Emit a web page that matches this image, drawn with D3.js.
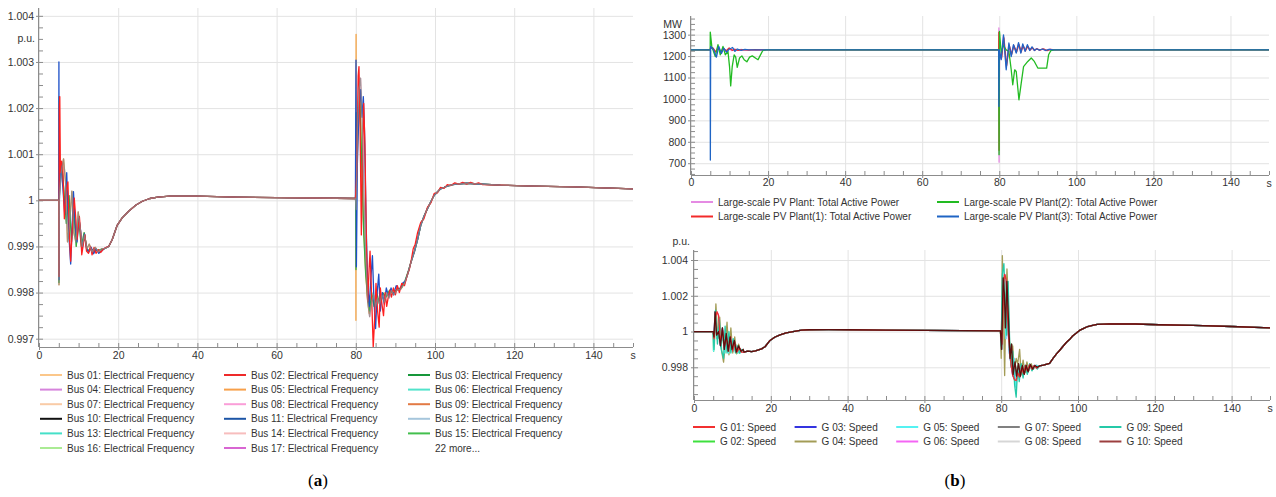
<!DOCTYPE html>
<html><head><meta charset="utf-8">
<title>Frequency, PV power and generator speed</title>
<script src="https://d3js.org/d3.v7.min.js"></script>
<style>
  body { margin: 0; background: #fff; }
  svg { display: block; font-family: "Liberation Sans", Arial, sans-serif; }
  .grid line { stroke: #e3e3e3; }
  .grid .domain { stroke: none; }
  .axis .domain, .axis line { stroke: #8c8c8c; }
  .axis text { fill: #333; font-size: 10.5px; }
  .unit { fill: #333; font-size: 10.5px; }
  .trace { fill: none; stroke-width: 1.3; stroke-linejoin: round; }
  .legend text { fill: #333; font-size: 10px; }
  .caption { font-family: "Liberation Serif", "DejaVu Serif", serif; font-size: 17px; fill: #000; }
</style>
</head>
<body>
<svg id="chart" width="1276" height="497"></svg>

<script>
// ---------- ticks ----------
const timeTicks = [0, 20, 40, 60, 80, 100, 120, 140];
const freqTicks = [0.997, 0.998, 0.999, 1, 1.001, 1.002, 1.003, 1.004];
const powerTicks = [700, 800, 900, 1000, 1100, 1200, 1300];
const speedTicks = [0.998, 1, 1.002, 1.004];

// ---------- (a) bus frequency, p.u. ----------
const busNames = ["Bus 01: Electrical Frequency", "Bus 02: Electrical Frequency", "Bus 03: Electrical Frequency",
  "Bus 04: Electrical Frequency", "Bus 05: Electrical Frequency", "Bus 06: Electrical Frequency",
  "Bus 07: Electrical Frequency", "Bus 08: Electrical Frequency", "Bus 09: Electrical Frequency",
  "Bus 10: Electrical Frequency", "Bus 11: Electrical Frequency", "Bus 12: Electrical Frequency",
  "Bus 13: Electrical Frequency", "Bus 14: Electrical Frequency", "Bus 15: Electrical Frequency",
  "Bus 16: Electrical Frequency", "Bus 17: Electrical Frequency", "22 more..."];
const busColors = ["#fbc78a", "#ee2a2a", "#17973a", "#d684dc", "#f7a04a", "#52e3cb",
  "#f9cba6", "#fa9ed8", "#e27a45", "#111111", "#1c55a6", "#a6c6dc",
  "#45e0c8", "#f7bdbd", "#43bf4d", "#aaeb94", "#d866d2", null];

const busStart = [[0, 1], [5, 1]];
const busRecovery1 = [[17.6, 0.99900], [18.5, 0.99915], [19.7, 0.99945], [21, 0.99962], [22.7, 0.99977],
  [24.5, 0.99990], [26.1, 0.99998], [28, 1.00004], [30, 1.00007], [33, 1.00009], [40, 1.00009],
  [50, 1.00007], [60, 1.00006], [70, 1.00005], [79.9, 1.00004]];
const busRecovery2 = [[94.8, 0.99889], [95.6, 0.99915], [96.4, 0.99946], [97.2, 0.99965], [98.1, 0.99982],
  [99, 0.99998], [99.8, 1.00011], [100.6, 1.00018], [101.4, 1.00025], [102.3, 1.00028], [103.1, 1.00031],
  [104.5, 1.00034], [106.4, 1.00036], [108, 1.00037], [110, 1.00036], [116.5, 1.00033], [125, 1.00031],
  [135, 1.00029], [150, 1.00025]];
const busRedRecovery2 = [[94.5, 0.99895], [95.0, 0.99905], [95.6, 0.9993], [96.4, 0.99952], [97.2, 0.9996],
  [98.1, 0.99985], [99, 0.99995], [99.8, 1.00015], [100.6, 1.00016], [101.4, 1.00028], [102.3, 1.00026],
  [103.1, 1.00034], [104, 1.00032], [105, 1.00038], [106, 1.00035], [107, 1.00039], [108, 1.00035],
  [109, 1.00039], [110, 1.00035], [111, 1.00038], [112, 1.00034], [116.5, 1.00033], [125, 1.00031],
  [135, 1.00029], [150, 1.00025]];

const busPinkEvent1 = [[5, 1], [5.04, 0.99822], [5.1, 1.00225], [5.2, 1.0004], [5.7, 1.0008], [6.3, 1.0002],
  [6.9, 0.9995], [7.6, 1.0001], [8.2, 0.9991], [8.8, 0.9998], [9.4, 0.9990], [10.0, 0.9996], [10.7, 0.9990],
  [11.4, 0.9993], [12.2, 0.9989], [13.0, 0.99895], [14, 0.9989], [15, 0.99892], [16.5, 0.99895]];
const busGrayEvent1 = [[5, 1], [5.05, 0.99817], [5.15, 1.0001], [5.6, 1.0006], [6.2, 1.0009], [6.7, 1.0004],
  [7.2, 0.9991], [7.7, 0.99945], [8.3, 1.0002], [8.8, 0.9993], [9.3, 0.9991], [9.9, 0.99975], [10.4, 0.9994],
  [10.9, 0.9990], [11.5, 0.99925], [12.1, 0.99895], [12.7, 0.99905], [13.4, 0.99888], [14.2, 0.99898],
  [15.0, 0.99888], [15.8, 0.99895], [16.7, 0.99896]];
const busBlueEvent1 = [[5, 1], [5.03, 1.0030], [5.08, 0.99828], [5.15, 1.0000], [5.5, 1.0008], [6.0, 1.0003],
  [6.5, 0.9997], [7.0, 1.0006], [7.5, 0.9993], [8.0, 0.99862], [8.4, 0.9995], [8.7, 1.00019], [9.2, 0.9994],
  [9.6, 0.9991], [10.1, 0.9996], [10.5, 0.99935], [10.9, 0.99895], [11.5, 0.99927], [12.0, 0.99895],
  [12.6, 0.99888], [13.2, 0.99898], [13.8, 0.99884], [14.4, 0.99895], [15.1, 0.99885], [15.8, 0.9989],
  [16.6, 0.99896]];
const busRedEvent1 = [[5, 1], [5.05, 0.99835], [5.15, 1.0020], [5.25, 1.00225], [5.4, 1.0006], [5.7, 1.00085],
  [6.0, 1.00075], [6.4, 0.9996], [6.9, 1.0002], [7.3, 1.0004], [7.7, 0.9992], [8.0, 0.99868], [8.4, 0.9994],
  [8.9, 1.00005], [9.3, 0.9996], [9.6, 0.99915], [10.2, 0.99965], [10.5, 0.9993], [10.8, 0.99882],
  [11.2, 0.99905], [11.6, 0.99925], [12.0, 0.9989], [12.5, 0.99885], [13.0, 0.9990], [13.4, 0.99882],
  [13.9, 0.99898], [14.4, 0.99885], [15.0, 0.99893], [15.6, 0.99887], [16.3, 0.99895], [17, 0.99898]];

const busOrangeEvent2 = [[80.0, 1.00003], [80.03, 0.9974], [80.07, 1.0036], [80.15, 1.0004], [80.5, 1.0013],
  [81.0, 1.0023], [81.4, 1.0012], [81.9, 0.9996], [82.4, 0.9986], [82.9, 0.9979], [83.4, 0.99755],
  [83.9, 0.9979], [84.5, 0.9978], [85.2, 0.9979], [86, 0.9978], [87, 0.99795], [88, 0.99795], [89, 0.998],
  [90.3, 0.99805], [91.4, 0.99808], [92.3, 0.9982], [93.1, 0.9984], [93.9, 0.99865]];
const busGreenEvent2 = [[80.0, 1.00003], [80.05, 0.9985], [80.1, 1.0019], [80.2, 1.001], [80.6, 1.0018],
  [81.0, 1.0022], [81.5, 1.0008], [82, 0.9993], [82.5, 0.9984], [83, 0.9979], [83.5, 0.9976], [84, 0.9980],
  [84.6, 0.9977], [85.3, 0.9980], [86, 0.99775], [86.8, 0.998], [87.6, 0.9979], [88.5, 0.99805],
  [89.5, 0.99798], [90.5, 0.99808], [91.5, 0.9981], [92.4, 0.99825], [93.2, 0.99845], [94, 0.99868]];
const busGrayEvent2 = [[80.1, 0.9998], [80.4, 1.0015], [80.8, 1.0024], [81.2, 1.00265], [81.6, 1.0018],
  [82.0, 1.0003], [82.5, 0.9988], [83.0, 0.9978], [83.5, 0.99748], [84.0, 0.9978], [84.5, 0.99795],
  [85.0, 0.9977], [85.5, 0.99788], [86, 0.99775], [86.6, 0.99795], [87.2, 0.9978], [87.8, 0.998],
  [88.4, 0.99788], [89, 0.99805], [89.6, 0.99795], [90.4, 0.99805], [91.4, 0.99808], [92.3, 0.9982],
  [93.1, 0.9984], [93.9, 0.99865]];
const busBlueEvent2 = [[80.05, 1.00304], [80.15, 0.99856], [80.4, 1.0008], [80.8, 1.0020], [81.2, 1.0024],
  [81.6, 1.0018], [81.9, 1.00225], [82.2, 1.0015], [82.6, 0.9995], [83.0, 0.9982], [83.4, 0.9977],
  [83.8, 0.9983], [84.2, 0.9988], [84.6, 0.9978], [85.0, 0.99722], [85.4, 0.998], [85.8, 0.9984],
  [86.2, 0.9976], [86.7, 0.9980], [87.2, 0.99775], [87.7, 0.9981], [88.3, 0.9979], [88.9, 0.9981],
  [89.5, 0.99795], [90.2, 0.99815], [91, 0.99805], [91.8, 0.9982], [92.5, 0.99825], [93.1, 0.9984],
  [93.9, 0.99865]];
const busRedEvent2 = [[80.2, 1.0005], [80.6, 1.0027], [80.8, 1.0029], [81.1, 1.0015], [81.4, 0.99925],
  [81.7, 1.0010], [82.0, 1.0021], [82.3, 1.0012], [82.7, 0.9990], [83.0, 0.9978], [83.3, 0.9984],
  [83.6, 0.9989], [84.0, 0.9979], [84.4, 0.99682], [84.8, 0.9975], [85.1, 0.9982], [85.5, 0.9976],
  [85.9, 0.99725], [86.2, 0.9981], [86.6, 0.99775], [87.0, 0.9975], [87.4, 0.9980], [87.8, 0.9977],
  [88.2, 0.9979], [88.6, 0.99805], [89.0, 0.9979], [89.5, 0.9981], [90.0, 0.99795], [90.5, 0.99815],
  [91.0, 0.998], [91.6, 0.9982], [92.3, 0.99815], [93.0, 0.99838], [93.5, 0.9985], [94.0, 0.9987]];

const busTraces = [
  { color: "#f5b0c8", points: busStart.concat(busPinkEvent1, busRecovery1, busGrayEvent2, busRecovery2) },
  { color: "#f4a446", points: busStart.concat(busGrayEvent1, busRecovery1, busOrangeEvent2, busRecovery2) },
  { color: "#2fae3f", points: busStart.concat(busPinkEvent1, busRecovery1, busGreenEvent2, busRecovery2) },
  { color: "#1d50c8", points: busStart.concat(busBlueEvent1, busRecovery1, busBlueEvent2, busRecovery2) },
  { color: "#ff1f1f", points: busStart.concat(busRedEvent1, busRecovery1, busRedEvent2, busRedRecovery2) },
  { color: "#8a8a8a", opacity: 0.75, points: busStart.concat(busGrayEvent1, busRecovery1, busGrayEvent2, busRecovery2) }
];

// ---------- (b) top: PV plant active power, MW ----------
const pvNames = ["Large-scale PV Plant: Total Active Power", "Large-scale PV Plant(1): Total Active Power",
  "Large-scale PV Plant(2): Total Active Power", "Large-scale PV Plant(3): Total Active Power"];
const pvColors = ["#e58be3", "#f22a2a", "#22bb22", "#1f64c4"];

const pvPlant = [[0, 1229], [5, 1229], [5.05, 1241], [5.6, 1234], [6.3, 1221], [7.0, 1239], [7.7, 1220],
  [8.4, 1237], [9.1, 1223], [9.8, 1235], [10.6, 1225], [11.3, 1233], [12.1, 1226], [13, 1231], [14, 1228],
  [15.5, 1230], [17, 1228], [19, 1229], [79.85, 1229], [79.9, 1331], [79.95, 705], [80.05, 1210],
  [80.5, 1185], [81.1, 1292], [81.8, 1148], [82.5, 1256], [83.1, 1204], [83.7, 1251], [84.4, 1217],
  [85.0, 1258], [85.6, 1217], [86.1, 1252], [86.7, 1223], [87.3, 1248], [87.9, 1227], [88.5, 1241],
  [89.1, 1226], [89.7, 1235], [90.4, 1227], [91.2, 1233], [92, 1225], [93, 1232], [94, 1228], [95, 1229],
  [150, 1229]];
const pvPlant1 = [[0, 1229], [5, 1229], [5.05, 1236], [5.7, 1238], [6.4, 1220], [7.1, 1236], [7.8, 1222],
  [8.5, 1234], [9.2, 1225], [9.9, 1238], [10.7, 1227], [11.4, 1231], [12.2, 1227], [13.2, 1230], [15, 1228],
  [16.5, 1230], [19, 1229], [79.85, 1229], [79.9, 1310], [79.95, 760], [80.05, 1215], [80.6, 1190],
  [81.2, 1285], [81.9, 1155], [82.6, 1250], [83.2, 1208], [83.8, 1248], [84.5, 1220], [85.1, 1254],
  [85.7, 1220], [86.2, 1249], [86.8, 1225], [87.4, 1245], [88, 1228], [88.6, 1239], [89.2, 1227],
  [89.8, 1234], [90.5, 1228], [91.5, 1234], [92.4, 1225], [93.3, 1231], [94.5, 1229], [150, 1229]];
const pvPlant2 = [[0, 1229], [4.98, 1229], [5.0, 1312], [5.4, 1245], [6.3, 1198], [7.0, 1253], [7.6, 1206],
  [8.3, 1245], [8.9, 1206], [9.6, 1221], [10.0, 1151], [10.3, 1061], [10.7, 1151], [11.2, 1206],
  [11.6, 1195], [12.0, 1147], [12.6, 1191], [13.2, 1201], [13.8, 1183], [14.5, 1173], [15.2, 1195],
  [15.9, 1201], [16.9, 1189], [17.4, 1183], [17.9, 1201], [18.6, 1225], [19.5, 1229], [79.85, 1229],
  [79.95, 740], [80.05, 1315], [80.5, 1214], [81.0, 1250], [81.8, 1229], [82.5, 1222], [83.1, 1136],
  [83.5, 1066], [84.0, 1136], [84.4, 1128], [85.1, 996], [85.7, 1074], [86.3, 1151], [87.4, 1175],
  [88.3, 1191], [89.1, 1175], [90.0, 1144], [91.3, 1144], [92.3, 1144], [92.8, 1206], [93.4, 1226],
  [94.3, 1229], [150, 1229]];
const pvPlant3 = [[0, 1229], [5, 1229], [5.02, 715], [5.1, 1245], [5.8, 1232], [6.6, 1195], [7.2, 1245],
  [7.9, 1212], [8.5, 1237], [9.2, 1218], [9.9, 1232], [10.8, 1240], [11.4, 1222], [12, 1233], [13, 1227],
  [14, 1231], [15, 1229], [79.85, 1229], [79.9, 965], [80.0, 1229], [80.5, 1183], [81.1, 1299],
  [81.8, 1136], [82.5, 1261], [83.1, 1198], [83.7, 1253], [84.4, 1214], [85.0, 1263], [85.6, 1214],
  [86.1, 1257], [86.7, 1222], [87.3, 1253], [87.9, 1226], [88.5, 1243], [89.1, 1226], [89.7, 1234],
  [90.4, 1228], [91.2, 1233], [92, 1227], [93, 1231], [94, 1229], [150, 1229]];

const pvTraces = [
  { color: pvColors[0], points: pvPlant },
  { color: pvColors[1], points: pvPlant1 },
  { color: pvColors[2], points: pvPlant2 },
  { color: pvColors[3], points: pvPlant3 }
];

// ---------- (b) bottom: generator speed, p.u. ----------
const genNames = ["G 01: Speed", "G 02: Speed", "G 03: Speed", "G 04: Speed", "G 05: Speed",
  "G 06: Speed", "G 07: Speed", "G 08: Speed", "G 09: Speed", "G 10: Speed"];
const genColors = ["#f23030", "#3ee03e", "#3434e0", "#a39c56", "#55f2f2",
  "#f465f4", "#808080", "#d6d6d6", "#25c9a8", "#9c3f3f"];

const genStart = [[0, 1], [5, 1]];
const genBase1 = [[13, 0.99885], [14, 0.9989], [15, 0.99888], [16, 0.99892], [17.6, 0.99903],
  [18.5, 0.99915], [19.8, 0.9995], [21, 0.99968], [22.4, 0.99981], [24, 0.99993], [25.8, 1.0],
  [28, 1.00008], [30, 1.0001], [35, 1.00011], [40, 1.0001], [50, 1.00008], [60, 1.00006], [70, 1.00005],
  [79.8, 1.00004]];
const genBase2 = [[90, 0.99808], [91, 0.99812], [92.6, 0.99822], [93.5, 0.9985], [94.4, 0.99875],
  [95.2, 0.99894], [96, 0.99915], [97, 0.9994], [98, 0.9996], [98.6, 0.99975], [99.5, 0.9999],
  [100.4, 1.00006], [101.5, 1.00018], [102.5, 1.00028], [103.8, 1.00035], [105, 1.0004], [108.2, 1.00043],
  [115, 1.00042], [121, 1.00038], [130, 1.00034], [140, 1.00028], [150, 1.0002]];

const gRedEvent1 = [[5.2, 0.9996], [5.6, 1.0008], [6.0, 1.0011], [6.4, 1.0009], [6.9, 0.9994], [7.4, 1.0001],
  [7.9, 0.9991], [8.4, 0.99975], [9.0, 0.9989], [9.5, 0.9997], [10.1, 0.9989], [10.6, 0.9994],
  [11.2, 0.99885], [11.8, 0.9991], [12.4, 0.99885]];
const gRedEvent2 = [[80.2, 0.9993], [80.6, 1.0026], [80.9, 1.0032], [81.3, 1.0029], [81.6, 1.0012],
  [81.9, 0.9998], [82.2, 0.9989], [82.6, 0.9981], [83.0, 0.99755], [83.5, 0.9973], [83.9, 0.99726],
  [84.3, 0.9977], [84.8, 0.99745], [85.3, 0.9980], [85.8, 0.99765], [86.3, 0.9981], [86.8, 0.9978],
  [87.4, 0.99815], [88, 0.9979], [88.6, 0.9981], [89.2, 0.99795]];
const gOliveEvent1 = [[5.3, 0.9992], [5.7, 1.00155], [6.2, 0.9996], [6.7, 1.0008], [7.2, 0.9989],
  [7.7, 0.99829], [8.2, 0.9994], [8.6, 1.00052], [9.1, 0.9987], [9.6, 1.0002], [10.1, 0.9988],
  [10.6, 0.9997], [11.1, 0.99875], [11.6, 0.9993], [12.2, 0.99885], [12.8, 0.9990]];
const gOliveEvent2 = [[80.0, 0.9985], [80.3, 1.00425], [80.6, 1.0008], [80.9, 0.99754], [81.2, 1.0015],
  [81.5, 1.0035], [81.8, 1.002], [82.2, 0.9992], [82.6, 0.9985], [83.0, 0.9992], [83.4, 0.9978],
  [83.9, 0.9985], [84.3, 0.9982], [84.8, 0.9990], [85.2, 0.9976], [85.7, 0.9984], [86.2, 0.9977],
  [86.7, 0.9983], [87.2, 0.9978], [87.8, 0.9982], [88.4, 0.9979], [89, 0.9981]];
const gTealEvent1 = [[5.2, 0.9990], [5.6, 1.0012], [6.1, 0.9993], [6.6, 1.0007], [7.1, 0.9990],
  [7.7, 0.9985], [8.1, 1.0003], [8.6, 0.9988], [9.1, 1.0000], [9.6, 0.9988], [10.2, 0.9996],
  [10.8, 0.9988], [11.3, 0.9992], [11.9, 0.99878], [12.5, 0.9990]];
const gTealEvent2 = [[80.0, 0.9992], [80.3, 1.0032], [80.7, 1.0038], [81.1, 1.0015], [81.4, 0.9998],
  [81.8, 1.0028], [82.2, 0.9995], [82.6, 0.9980], [83.0, 0.9989], [83.5, 0.9970], [83.9, 0.99633],
  [84.3, 0.9980], [84.7, 0.9972], [85.2, 0.9982], [85.7, 0.9974], [86.2, 0.9981], [86.8, 0.9976],
  [87.4, 0.9982], [88, 0.9978], [88.7, 0.9981], [89.4, 0.9979]];
const gCyanEvent1 = [[5.1, 0.9989], [5.5, 1.0009], [6.0, 0.9996], [6.5, 1.0004], [7.0, 0.9991],
  [7.5, 0.9999], [8.0, 0.9988], [8.5, 0.9999], [9.0, 0.9988], [9.6, 0.9996], [10.2, 0.9989],
  [10.8, 0.9993], [11.4, 0.9988], [12, 0.9990]];
const gCyanEvent2 = [[80.1, 0.9990], [80.4, 1.0028], [80.8, 1.0024], [81.2, 0.9996], [81.6, 1.0020],
  [82.0, 0.9990], [82.4, 0.9984], [82.9, 0.9978], [83.3, 0.9985], [83.8, 0.9969], [84.2, 0.9978],
  [84.7, 0.9975], [85.2, 0.9981], [85.7, 0.9976], [86.3, 0.9981], [86.9, 0.9977], [87.5, 0.9981],
  [88.2, 0.9979], [89, 0.9981]];
const gDarkEvent1 = [[5.2, 0.9997], [5.5, 1.0011], [5.9, 0.9998], [6.4, 1.0], [6.9, 0.9992], [7.4, 1.0002],
  [7.9, 0.9990], [8.4, 0.9999], [8.9, 0.9989], [9.4, 0.9997], [9.9, 0.9990], [10.5, 0.9995], [11, 0.99885],
  [11.6, 0.9992], [12.2, 0.9989], [12.8, 0.9990]];
const gDarkEvent2 = [[80.1, 0.9990], [80.5, 1.0030], [80.8, 1.0022], [81.1, 1.0002], [81.5, 1.0028],
  [81.9, 1.0006], [82.3, 0.9985], [82.7, 0.9993], [83.1, 0.9976], [83.6, 0.9983], [84.0, 0.9975],
  [84.5, 0.9982], [85.0, 0.9975], [85.5, 0.9981], [86, 0.9976], [86.5, 0.9981], [87, 0.99775],
  [87.6, 0.99815], [88.2, 0.9979], [88.8, 0.9981], [89.4, 0.998]];

const genTraces = [
  { color: genColors[7], points: genStart.concat(gCyanEvent1, genBase1, gCyanEvent2, genBase2) },
  { color: genColors[5], points: genStart.concat(gRedEvent1, genBase1, gCyanEvent2, genBase2) },
  { color: genColors[1], points: genStart.concat(gCyanEvent1, genBase1, gDarkEvent2, genBase2) },
  { color: genColors[2], points: genStart.concat(gDarkEvent1, genBase1, gRedEvent2, genBase2) },
  { color: genColors[6], points: genStart.concat(gDarkEvent1, genBase1, gDarkEvent2, genBase2) },
  { color: genColors[3], points: genStart.concat(gOliveEvent1, genBase1, gOliveEvent2, genBase2) },
  { color: genColors[4], points: genStart.concat(gCyanEvent1, genBase1, gCyanEvent2, genBase2) },
  { color: genColors[8], points: genStart.concat(gTealEvent1, genBase1, gTealEvent2, genBase2) },
  { color: genColors[0], points: genStart.concat(gRedEvent1, genBase1, gRedEvent2, genBase2) },
  { color: "#5c0f0f", points: genStart.concat(gDarkEvent1, genBase1, gDarkEvent2, genBase2) }
];

// ---------- drawing ----------
const svg = d3.select("#chart");
const fmt = d => String(+d.toFixed(4));

function drawPanel(p) {
  const x = d3.scaleLinear().domain([0, 150]).range([p.left, p.right]);
  const y = d3.scaleLinear().domain(p.yDomain).range([p.bottom, p.top]);
  const g = svg.append("g");
  const w = p.right - p.left, h = p.bottom - p.top;

  // gridlines
  g.append("g").attr("class", "grid").attr("transform", "translate(0," + p.bottom + ")")
    .call(d3.axisBottom(x).tickValues(timeTicks).tickSize(-h).tickFormat(""));
  g.append("g").attr("class", "grid").attr("transform", "translate(" + p.left + ",0)")
    .call(d3.axisLeft(y).tickValues(p.yTicks).tickSize(-w).tickFormat(""));

  // minor ticks, pointing inside
  const yMinor = d3.range(Math.ceil(p.yDomain[0] / p.yMinor), Math.floor(p.yDomain[1] / p.yMinor) + 1)
    .map(k => k * p.yMinor);
  g.append("g").attr("class", "axis").attr("transform", "translate(0," + p.bottom + ")")
    .call(d3.axisBottom(x).tickValues(d3.range(0, 151, 5)).tickSize(-4).tickFormat(""))
    .select(".domain").remove();
  g.append("g").attr("class", "axis").attr("transform", "translate(" + p.left + ",0)")
    .call(d3.axisLeft(y).tickValues(yMinor).tickSize(-4).tickFormat(""))
    .select(".domain").remove();

  // traces
  const clipId = "clip" + p.id;
  svg.append("clipPath").attr("id", clipId).append("rect")
    .attr("x", p.left).attr("y", p.top).attr("width", w).attr("height", h);
  const line = d3.line().x(d => x(d[0])).y(d => y(d[1]));
  g.append("g").attr("clip-path", "url(#" + clipId + ")")
    .selectAll("path").data(p.traces).join("path")
    .attr("class", "trace")
    .attr("stroke", d => d.color)
    .attr("stroke-opacity", d => d.opacity || 1)
    .attr("d", d => line(d.points));

  // axes
  const xAxis = g.append("g").attr("class", "axis").attr("transform", "translate(0," + p.bottom + ")")
    .call(d3.axisBottom(x).tickValues(timeTicks).tickSize(3).tickPadding(p.xPad).tickFormat(d3.format("d")));
  xAxis.select(".domain").attr("d", "M" + p.left + ",0.5H" + p.right);
  const yAxis = g.append("g").attr("class", "axis").attr("transform", "translate(" + p.left + ",0)")
    .call(d3.axisLeft(y).tickValues(p.yTicks).tickSize(3).tickPadding(p.yPad).tickFormat(p.format));
  yAxis.select(".domain").attr("d", "M-0.5," + p.top + "V" + p.bottom);

  g.append("text").attr("class", "unit").attr("x", p.right).attr("y", p.bottom + p.xPad + 10.7)
    .attr("text-anchor", "middle").text("s");
  g.append("text").attr("class", "unit").attr("x", p.unitX).attr("y", p.unitY)
    .attr("text-anchor", "end").text(p.unit);

  // legend
  const leg = g.append("g").attr("class", "legend");
  p.legend.forEach((name, i) => {
    const col = p.byRow ? i % p.cols : Math.floor(i / p.rows);
    const row = p.byRow ? Math.floor(i / p.cols) : i % p.rows;
    const lx = p.legX + col * p.legColW, ly = p.legY + row * p.legRowH;
    if (p.legColors[i]) {
      leg.append("line").attr("x1", lx).attr("x2", lx + 22).attr("y1", ly).attr("y2", ly)
        .attr("stroke", p.legColors[i]).attr("stroke-width", 2);
    }
    leg.append("text").attr("x", lx + 27).attr("y", ly + 3.6).text(name);
  });
}

drawPanel({
  id: "A", left: 39, right: 633, top: 8, bottom: 347,
  yDomain: [0.99682, 1.00417], yTicks: freqTicks, yMinor: 0.00025, format: fmt,
  xPad: 1.5, yPad: 2, unit: "p.u.", unitX: 35, unitY: 42,
  traces: busTraces,
  legend: busNames, legColors: busColors, byRow: true, cols: 3, rows: 6,
  legX: 40, legY: 375, legColW: 184, legRowH: 14.6
});

drawPanel({
  id: "B", left: 691, right: 1269, top: 16, bottom: 175,
  yDomain: [645, 1387], yTicks: powerTicks, yMinor: 25, format: d3.format("d"),
  xPad: 1, yPad: 2, unit: "MW", unitX: 682, unitY: 28,
  traces: pvTraces,
  legend: pvNames, legColors: pvColors, byRow: false, cols: 2, rows: 2,
  legX: 691, legY: 202, legColW: 246, legRowH: 14.5
});

drawPanel({
  id: "C", left: 694, right: 1270, top: 250, bottom: 400,
  yDomain: [0.99617, 1.00456], yTicks: speedTicks, yMinor: 0.0005, format: fmt,
  xPad: 1.5, yPad: 3, unit: "p.u.", unitX: 690, unitY: 245,
  traces: genTraces,
  legend: genNames, legColors: genColors, byRow: false, cols: 5, rows: 2,
  legX: 693, legY: 427, legColW: 101.6, legRowH: 14.5
});

// captions
[["a", 318], ["b", 955]].forEach(([letter, cx]) => {
  const t = svg.append("text").attr("class", "caption").attr("x", cx).attr("y", 486).attr("text-anchor", "middle");
  t.append("tspan").text("(");
  t.append("tspan").attr("font-weight", "bold").text(letter);
  t.append("tspan").text(")");
});
</script>
</body>
</html>
